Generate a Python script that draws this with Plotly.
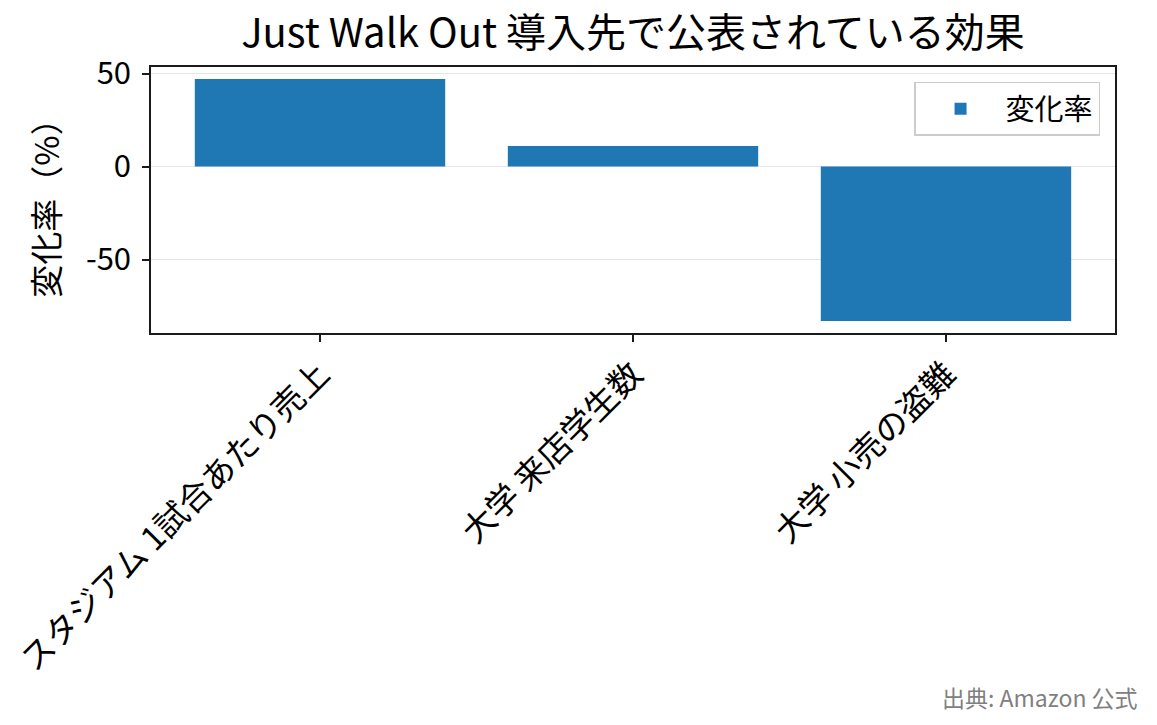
import plotly.graph_objects as go

categories = ["スタジアム 1試合あたり売上", "大学 来店学生数", "大学 小売の盗難"]
values = [47, 11, -83]
series_name = "変化率"
y_ticks = [-50, 0, 50]
y_tick_labels = ["-50", "0", "50"]

FONT = "Noto Sans CJK JP"

fig = go.Figure()
fig.add_trace(go.Bar(
    x=list(range(len(categories))), y=values, name=series_name,
    width=0.8, marker=dict(color="#1f77b4", line=dict(width=0)),
    showlegend=True,
))

fig.update_layout(
    width=1157, height=725,
    margin=dict(l=151, r=42, t=67, b=392),
    paper_bgcolor="white", plot_bgcolor="white",
    font=dict(family=FONT, color="black"),
    title=dict(text="Just Walk Out 導入先で公表されている効果", x=0.5, xref="paper",
               xanchor="center", y=0.954, yref="container", yanchor="middle",
               font=dict(size=40, family=FONT, color="black")),
    showlegend=True,
    legend=dict(x=0.9845, y=0.944, xanchor="right", yanchor="top",
                bgcolor="white", bordercolor="#cccccc", borderwidth=1.5,
                font=dict(size=29, family=FONT), itemwidth=80),
    bargap=0.2,
)

fig.update_xaxes(
    range=[-0.54, 2.54], tickmode="array", tickvals=list(range(len(categories))),
    ticktext=categories, tickangle=-45, tickfont=dict(size=33, family=FONT),
    showline=True, linecolor="#1a1a1a", linewidth=1.5, mirror=True,
    ticks="outside", ticklen=7, tickwidth=1.5, tickcolor="#1a1a1a",
    showgrid=False, zeroline=False, automargin=False,
)
fig.update_yaxes(
    range=[-89.5, 53.5], tickmode="array", tickvals=y_ticks, ticktext=y_tick_labels,
    tickfont=dict(size=31, family=FONT), ticklabelstandoff=5,
    title=dict(text="変化率（%）", font=dict(size=33, family=FONT), standoff=16),
    showline=True, linecolor="#1a1a1a", linewidth=1.5, mirror=True,
    ticks="outside", ticklen=7, tickwidth=1.5, tickcolor="#1a1a1a",
    showgrid=True, gridcolor="#e6e6e6", gridwidth=1.2,
    zeroline=False, automargin=False,
)

fig.add_annotation(
    text="出典: Amazon 公式", xref="paper", yref="paper",
    x=1.026, y=-1.368, xanchor="right", yanchor="middle", showarrow=False,
    font=dict(size=23, family=FONT, color="#808080"),
)

fig.write_html("out.html", config={"displayModeBar": False},
               post_script="document.body.style.margin='0';")
